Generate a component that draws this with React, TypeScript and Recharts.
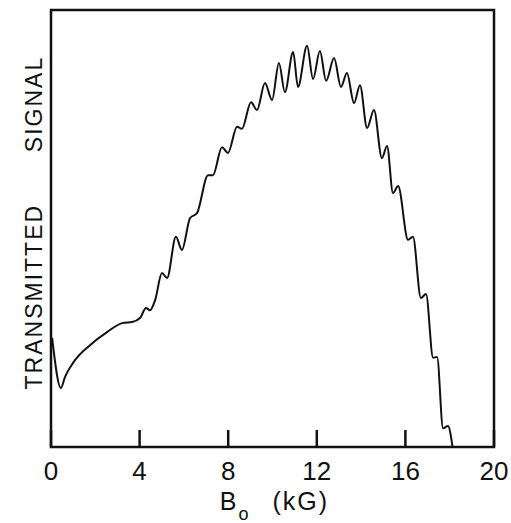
import React from 'react';
import { LineChart, Line, XAxis, YAxis, ReferenceArea } from 'recharts';

// magnetic field B0 (kG) and transmitted signal (arbitrary units, 0-100)
const fieldKG = [
  0.05, 0.45, 0.63, 0.99, 1.76, 2.53, 3.25, 3.66, 4.02, 4.29, 4.47, 4.7,
  5.01, 5.24, 5.64, 5.91, 6.28, 6.59, 7.09, 7.31, 7.72, 7.99, 8.4, 8.62,
  9.03, 9.3, 9.66, 9.98, 10.29, 10.56, 10.93, 11.15, 11.56, 11.83, 12.14,
  12.42, 12.78, 13.09, 13.36, 13.68, 13.95, 14.27, 14.58, 14.94, 15.17,
  15.44, 15.67, 16.12, 16.34, 16.7, 16.93, 17.25, 17.43, 17.7, 17.92, 18.13,
];
const signal = [
  25, 13.5, 16, 19.2, 23.3, 26.3, 28.4, 28.6, 29.5, 31.8, 31.3, 33.6,
  39.8, 38.7, 48.1, 45.1, 52.4, 53.5, 62.2, 62.2, 68.6, 67.3, 73.3, 72.8,
  78.9, 77.1, 83.3, 79.4, 87.9, 81.2, 90.4, 82.4, 91.8, 84.2, 90.6,
  83.8, 89.0, 82.4, 85.6, 78.7, 82.8, 73.0, 77.1, 66.1, 68.9,
  58.1, 59.7, 47.4, 48.1, 34.1, 35.0, 20.4, 20.6, 4.3, 4.8, 0,
];
const xTicks = [0, 4, 8, 12, 16, 20];
const yLabelParts = ['TRANSMITTED', 'SIGNAL'];

const data = fieldKG.map((b, i) => ({ b, s: signal[i] }));

const FONT = '"Liberation Sans", Arial, sans-serif';
const INK = '#111';

const BottomTick = (props: any) => {
  const { x, y, payload } = props;
  return (
    <g>
      <line x1={x} x2={x} y1={y} y2={y - 17} stroke={INK} strokeWidth={2.5} />
      <text
        x={x}
        y={y + 24}
        textAnchor="middle"
        dominantBaseline="central"
        fontSize={26}
        fontFamily={FONT}
        fill={INK}
      >
        {payload.value}
      </text>
    </g>
  );
};

const XLabel = (props: any) => {
  const { x, y, width } = props.viewBox;
  return (
    <text
      x={x + width / 2 + 2}
      y={y + 63}
      textAnchor="middle"
      fontSize={25}
      fontFamily={FONT}
      fill={INK}
    >
      B
      <tspan fontSize={18} dy={10} dx={2}>o</tspan>
      <tspan dy={-10} dx={24} letterSpacing={2}>(kG)</tspan>
    </text>
  );
};

const YLabel = (props: any) => {
  const { y, height } = props.viewBox;
  const cx = 34;
  const centers = [y + height * 0.656, y + height * 0.215];
  return (
    <g>
      {yLabelParts.map((t, i) => (
        <text
          key={t}
          x={cx}
          y={centers[i]}
          transform={`rotate(-90, ${cx}, ${centers[i]})`}
          textAnchor="middle"
          dominantBaseline="central"
          fontSize={23}
          fontFamily={FONT}
          letterSpacing={2}
          fill={INK}
        >
          {t}
        </text>
      ))}
    </g>
  );
};

export default function App() {
  return (
    <div style={{ position: 'absolute', left: 0, top: 0, width: 511, height: 523, background: '#fff' }}>
      <LineChart width={511} height={523} data={data} margin={{ top: 10, right: 17, bottom: 16, left: 0 }}>
        <XAxis
          dataKey="b"
          type="number"
          domain={[0, 20]}
          ticks={xTicks}
          allowDataOverflow
          axisLine={false}
          tickLine={false}
          tickSize={0}
          tickMargin={0}
          height={60}
          tick={<BottomTick />}
          label={<XLabel />}
        />
        <YAxis
          type="number"
          domain={[0, 100]}
          allowDataOverflow
          width={51}
          tick={false}
          axisLine={false}
          tickLine={false}
          label={<YLabel />}
        />
        <ReferenceArea x1={0} x2={20} y1={0} y2={100} fill="none" stroke={INK} strokeWidth={2.5} />
        <Line
          type="monotone"
          dataKey="s"
          stroke={INK}
          strokeWidth={2}
          dot={false}
          isAnimationActive={false}
        />
      </LineChart>
    </div>
  );
}
